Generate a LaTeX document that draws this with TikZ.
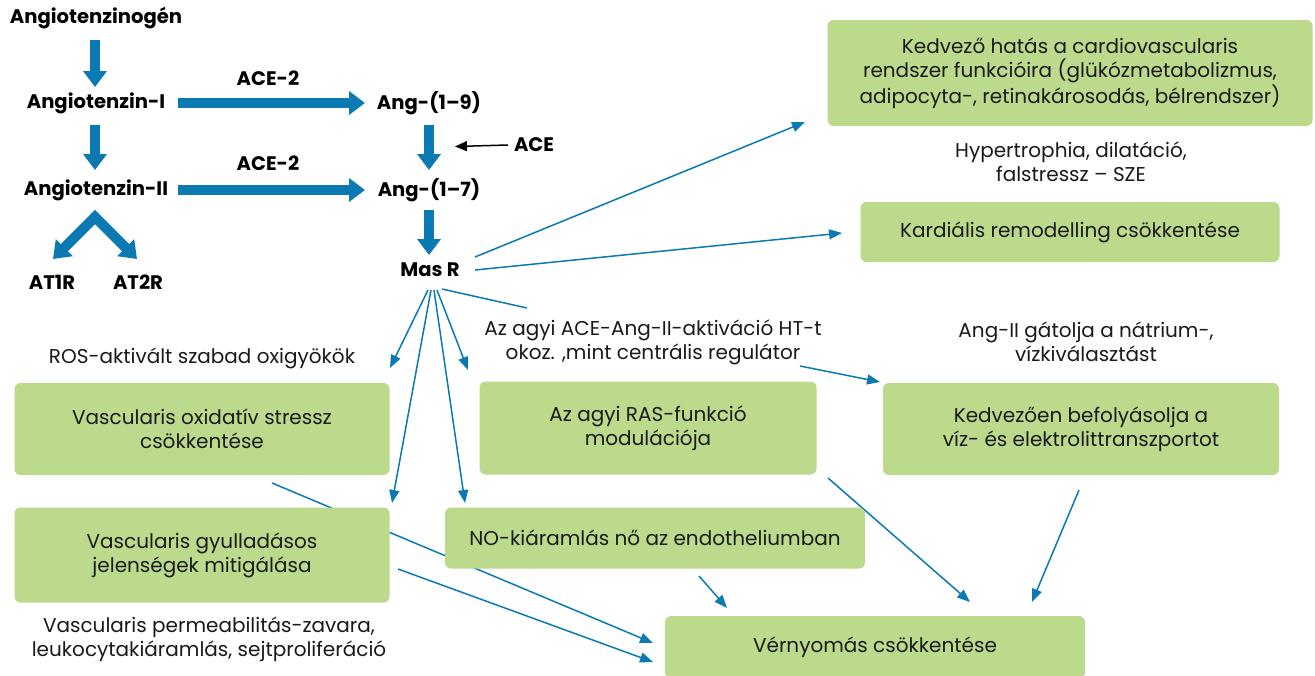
\documentclass[tikz,border=0pt]{standalone}
\usepackage{fontspec}
\setmainfont{Poppins}
\usepackage{tikz}
\usetikzlibrary{arrows.meta,calc,backgrounds}
\definecolor{flowblue}{HTML}{0B7AB2}
\definecolor{boxgreen}{HTML}{BBDA8B}
\definecolor{inktext}{HTML}{1A1A1A}

\begin{document}
\begin{tikzpicture}[
  x=0.5pt,y=-0.5pt,
  font=\fontsize{10}{12}\selectfont,
  mol/.style={font=\fontsize{9.8}{11}\selectfont\bfseries,inner sep=1pt},
  fat/.style={flowblue,line width=5pt,-{Triangle[length=8pt,width=11.5pt]}},
  link/.style={flowblue,line width=0.75pt,-{Triangle[length=6.5pt,width=5pt]}},
  effect/.style={rectangle,rounded corners=3pt,fill=boxgreen,align=center,text=inktext,inner sep=0pt},
  note/.style={align=center,text=inktext}
]
  \path[use as bounding box] (0,0) rectangle (1315,675);

  % the cascade
  \node[mol] (angen) at (96,18)  {Angiotenzinogén};
  \node[mol] (angi)  at (96,103) {Angiotenzin-I};
  \node[mol] (angii) at (96,190) {Angiotenzin-II};
  \node[mol] (at1r)  at (52,282) {AT1R};
  \node[mol] (at2r)  at (138,282) {AT2R};
  \node[mol] (ang19) at (429,103) {Ang-(1–9)};
  \node[mol] (ang17) at (429,190) {Ang-(1–7)};
  \node[mol] (masr)  at (430,270) {Mas R};
  \node[mol] (ace2a) at (268,78)  {ACE-2};
  \node[mol] (ace2b) at (268,163) {ACE-2};
  \node[mol] (ace)   at (534,145) {ACE};

  \draw[fat] ($(angen)+(-1,22)$) -- ($(angi)+(-1,-16)$);
  \draw[fat] ($(angi)+(-1,22)$) -- ($(angii)+(-1,-20)$);
  \draw[fat] ($(angi)+(82,0)$) -- ($(ang19)+(-64,0)$);
  \draw[fat] ($(angii)+(82,0)$) -- ($(ang17)+(-64,0)$);
  \draw[fat] ($(ang19)+(0,22)$) -- ($(ang17)+(0,-20)$);
  \draw[fat] ($(ang17)+(0,20)$) -- ($(masr)+(-1,-15)$);
  \draw[fat,miter limit=4,{Triangle[length=8pt,width=11.5pt]}-{Triangle[length=8pt,width=11.5pt]}]
    ($(at1r)+(1,-23)$) -- ($(angii)+(-1,27)$) -- ($(at2r)+(-1,-23)$);
  \draw[-{Triangle[length=6pt,width=5pt]},line width=0.75pt]
    ($(ace)+(-26,0)$) -- ($(ang19)!0.5!(ang17)+(26,0)$);

  % effects
  \node[effect,minimum width=242.5pt,minimum height=53pt] (cvfunc) at (1070,73)
    {Kedvező hatás a cardiovascularis\\rendszer funkcióira (glükózmetabolizmus,\\adipocyta-, retinakárosodás, bélrendszer)};
  \node[effect,minimum width=209.5pt,minimum height=30pt] (remod) at (1070,232)
    {Kardiális remodelling csökkentése};
  \node[effect,minimum width=187.5pt,minimum height=46pt] (oxstress) at (202,429)
    {Vascularis oxidatív stressz\\csökkentése};
  \node[effect,minimum width=168.5pt,minimum height=46.5pt] (rasmod) at (648,428)
    {Az agyi RAS-funkció\\modulációja};
  \node[effect,minimum width=198pt,minimum height=46pt] (electro) at (1081,429)
    {Kedvezően befolyásolja a\\víz- és elektrolittranszportot};
  \node[effect,minimum width=187.5pt,minimum height=47.5pt] (inflam) at (202,555)
    {Vascularis gyulladásos\\jelenségek mitigálása};
  \node[effect,minimum width=210pt,minimum height=30.5pt] (noflow) at (655,538)
    {NO-kiáramlás nő az endotheliumban};
  \node[effect,minimum width=210pt,minimum height=31pt] (bp) at (875,647)
    {Vérnyomás csökkentése};

  \node[note] (hyper)  at (1071,162) {Hypertrophia, dilatáció,\\falstressz – SZE};
  \node[note] (aceang) at (653,342) {Az agyi ACE-Ang-II-aktiváció HT-t\\okoz. ,mint centrális regulátor};
  \node[note] (natr)   at (1086,342) {Ang-II gátolja a nátrium-,\\vízkiválasztást};
  \node[note] (ros)    at (202,358) {ROS-aktivált szabad oxigyökök};
  \node[note] (perm)   at (209,639) {Vascularis permeabilitás-zavara,\\leukocytakiáramlás, sejtproliferáció};

  % thin links, kept under the boxes
  \begin{scope}[on background layer]
    \fill[white] (0,0) rectangle (1315,675);
    \draw[link] ($(masr)+(45,-13)$) -- ($(cvfunc)+(-265,49)$);
    \draw[link] ($(masr)+(45,0)$) -- ($(remod)+(-228,1)$);
    \draw[link] ($(masr)+(-2,20)$) -- ($(oxstress)+(188,-61)$);
    \draw[link] ($(masr)+(1,20)$) -- ($(inflam)+(190,-52)$);
    \draw[link] ($(masr)+(4,20)$) -- ($(noflow)+(-190,-35)$);
    \draw[link] ($(masr)+(7,20)$) -- ($(rasmod)+(-180,-58)$);
    \draw[flowblue,line width=0.75pt] ($(masr)+(12,19)$) -- ($(aceang)+(-126,-34)$);
    \draw[link] ($(aceang)+(147,24)$) -- ($(electro)+(-201,-47)$);
    \draw[link] ($(oxstress)+(70,54)$) -- ($(bp)+(-222,-4)$);
    \draw[link] ($(inflam)+(196,14)$) -- ($(bp)+(-222,15)$);
    \draw[link] ($(noflow)+(44,38)$) -- ($(bp)+(-148,-39)$);
    \draw[link] ($(rasmod)+(180,50)$) -- ($(bp)+(95,-45)$);
    \draw[link] ($(electro)+(-2,61)$) -- ($(bp)+(157,-45)$);
  \end{scope}
\end{tikzpicture}
\end{document}
